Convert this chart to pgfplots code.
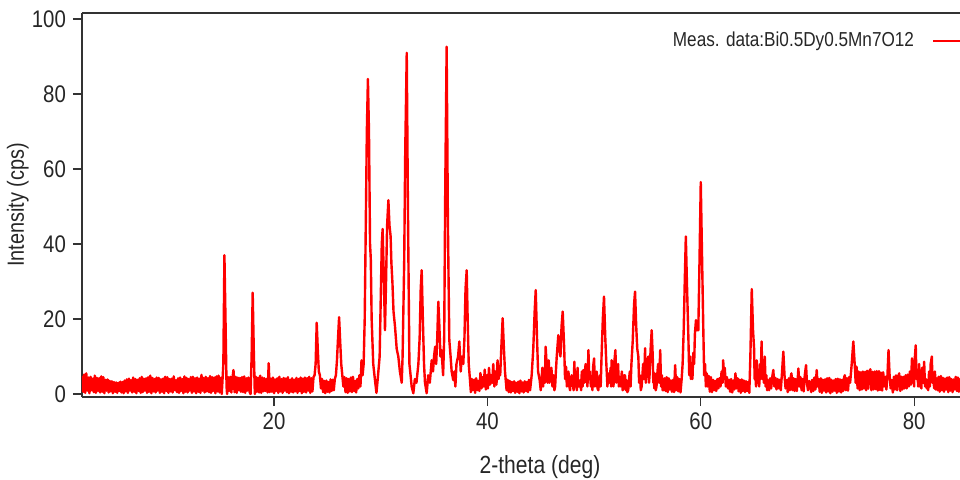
\documentclass[border=0pt]{standalone}
\usepackage{fontspec}
\setmainfont{Liberation Sans}[FakeStretch=0.85]
\usepackage{pgfplots}
\usepackage{pgfplotstable}
\pgfplotsset{compat=1.18}
\pgfplotstableread[row sep=\\]{
x y\\
2.0 4.8\\ 2.1 0.6\\ 2.2 5.2\\ 2.3 0.3\\ 2.4 5.5\\ 2.5 0.9\\ 2.6 4.4\\ 2.7 0.2\\ 2.8 4.6\\ 2.9 1.0\\
3.0 4.1\\ 3.1 0.5\\ 3.2 4.9\\ 3.3 0.3\\ 3.4 4.3\\ 3.5 0.8\\ 3.6 4.2\\ 3.7 0.4\\ 3.8 4.7\\ 3.9 0.6\\
4.0 4.5\\ 4.1 0.2\\ 4.2 3.8\\ 4.3 0.9\\ 4.4 3.9\\ 4.5 0.4\\ 4.6 3.5\\ 4.7 0.7\\ 4.8 3.4\\ 4.9 0.2\\
5.0 3.2\\ 5.1 0.6\\ 5.2 3.1\\ 5.3 0.3\\ 5.4 3.0\\ 5.5 0.8\\ 5.6 3.3\\ 5.7 0.4\\ 5.8 3.2\\ 5.9 0.2\\
6.0 3.6\\ 6.1 0.7\\ 6.2 3.9\\ 6.3 0.3\\ 6.4 4.1\\ 6.5 0.9\\ 6.6 3.7\\ 6.7 0.4\\ 6.8 4.4\\ 6.9 0.6\\
7.0 4.0\\ 7.1 0.2\\ 7.2 3.8\\ 7.3 0.8\\ 7.4 4.2\\ 7.5 0.3\\ 7.6 4.6\\ 7.7 0.5\\ 7.8 4.1\\ 7.9 0.9\\
8.0 4.2\\ 8.1 0.3\\ 8.2 4.5\\ 8.3 0.6\\ 8.4 4.9\\ 8.5 0.2\\ 8.6 4.3\\ 8.7 0.7\\ 8.8 4.0\\ 8.9 0.4\\
9.0 4.4\\ 9.1 0.9\\ 9.2 4.3\\ 9.3 0.3\\ 9.4 3.9\\ 9.5 0.6\\ 9.6 4.1\\ 9.7 0.2\\ 9.8 4.6\\ 9.9 0.8\\
10.0 4.5\\ 10.1 0.3\\ 10.2 4.0\\ 10.3 0.7\\ 10.4 4.1\\ 10.5 0.4\\ 10.6 4.7\\ 10.7 1.0\\ 10.8 3.7\\ 10.9 0.5\\
11.0 4.2\\ 11.1 0.3\\ 11.2 4.4\\ 11.3 0.8\\ 11.4 4.0\\ 11.5 0.2\\ 11.6 4.7\\ 11.7 0.6\\ 11.8 4.3\\ 11.9 0.4\\
12.0 4.0\\ 12.1 0.9\\ 12.2 4.5\\ 12.3 0.3\\ 12.4 4.6\\ 12.5 0.7\\ 12.6 4.2\\ 12.7 0.2\\ 12.8 4.4\\ 12.9 0.6\\
13.0 4.1\\ 13.1 0.3\\ 13.2 5.1\\ 13.3 0.9\\ 13.4 4.3\\ 13.5 0.4\\ 13.6 4.6\\ 13.7 0.7\\ 13.8 4.2\\ 13.9 0.5\\
14.0 4.8\\ 14.1 0.3\\ 14.2 4.5\\ 14.3 0.8\\ 14.4 4.4\\ 14.5 0.2\\ 14.6 4.7\\ 14.7 0.7\\ 14.8 4.9\\ 14.9 0.4\\
15.0 4.3\\ 15.1 0.0\\ 15.25 8\\ 15.35 37\\ 15.45 20\\ 15.55 2\\ 15.6 0.0\\ 15.7 4.5\\ 15.8 0.8\\ 15.9 4.6\\
16.0 0.4\\ 16.1 4.2\\ 16.2 6.4\\ 16.3 0.5\\ 16.4 4.6\\ 16.5 0.3\\ 16.6 4.4\\ 16.7 1.0\\ 16.8 4.3\\ 16.9 0.6\\
17.0 4.5\\ 17.1 0.5\\ 17.2 4.7\\ 17.3 0.3\\ 17.4 4.2\\ 17.5 0.9\\ 17.6 4.4\\ 17.7 0.6\\ 17.8 0.0\\ 17.9 10\\
18.0 27\\ 18.1 12\\ 18.2 0.0\\ 18.3 4.6\\ 18.4 0.6\\ 18.5 4.3\\ 18.6 0.4\\ 18.7 4.9\\ 18.8 0.3\\ 18.9 4.4\\
19.0 0.7\\ 19.1 4.2\\ 19.2 0.8\\ 19.3 4.0\\ 19.4 0.4\\ 19.5 8.2\\ 19.6 0.5\\ 19.7 4.1\\ 19.8 0.6\\ 19.9 4.4\\
20.0 0.2\\ 20.1 3.9\\ 20.2 0.8\\ 20.3 4.2\\ 20.4 0.3\\ 20.5 4.6\\ 20.6 0.7\\ 20.7 4.0\\ 20.8 0.3\\ 20.9 4.3\\
21.0 0.9\\ 21.1 4.1\\ 21.2 0.5\\ 21.3 4.5\\ 21.4 0.2\\ 21.5 3.8\\ 21.6 0.6\\ 21.7 4.2\\ 21.8 0.4\\ 21.9 3.8\\
22.0 0.7\\ 22.1 4.3\\ 22.2 0.3\\ 22.3 4.0\\ 22.4 0.8\\ 22.5 4.4\\ 22.6 0.2\\ 22.7 4.1\\ 22.8 0.6\\ 22.9 4.4\\
23.0 0.4\\ 23.1 4.2\\ 23.2 0.9\\ 23.3 4.6\\ 23.4 0.3\\ 23.5 4.2\\ 23.6 0.7\\ 23.7 4.5\\ 23.8 5.0\\ 23.9 8\\
24.0 19\\ 24.1 12\\ 24.2 6\\ 24.3 5\\ 24.4 1.5\\ 24.5 4.0\\ 24.6 0.5\\ 24.7 3.5\\ 24.8 0.2\\ 24.9 3.6\\
25.0 0.6\\ 25.1 3.2\\ 25.2 0.4\\ 25.3 3.9\\ 25.4 0.8\\ 25.5 3.8\\ 25.6 1.0\\ 25.7 4.0\\ 25.8 5\\ 25.9 9\\
26.0 15\\ 26.1 20.5\\ 26.2 14\\ 26.3 8\\ 26.4 5\\ 26.5 2\\ 26.6 4.5\\ 26.7 0.5\\ 26.8 4.2\\ 26.9 0.3\\
27.0 4.0\\ 27.1 0.7\\ 27.2 4.4\\ 27.3 0.5\\ 27.4 4.6\\ 27.5 0.8\\ 27.6 3.5\\ 27.7 0.4\\ 27.8 4.0\\ 27.9 1.5\\
28.0 5\\ 28.1 2\\ 28.2 9\\ 28.3 5\\ 28.4 8\\ 28.5 20\\ 28.6 45\\ 28.7 70\\ 28.8 84\\ 28.9 70\\
29.0 40\\ 29.07 36\\ 29.15 20\\ 29.3 8\\ 29.45 4\\ 29.6 0.3\\ 29.75 5\\ 29.9 10\\ 30.0 25\\ 30.1 40\\
30.18 44\\ 30.3 30\\ 30.4 17\\ 30.5 30\\ 30.6 45\\ 30.72 51.7\\ 30.82 45\\ 30.93 42\\ 31.0 35\\ 31.1 29.6\\
31.2 22\\ 31.34 18\\ 31.5 12\\ 31.65 10\\ 31.8 6\\ 31.97 3\\ 32.05 10\\ 32.2 35\\ 32.3 65\\ 32.44 91\\
32.55 50\\ 32.69 8\\ 32.8 5\\ 32.9 2\\ 33.06 0.2\\ 33.2 4\\ 33.35 3\\ 33.53 8\\ 33.65 15\\ 33.75 28\\
33.84 33\\ 33.95 20\\ 34.06 8\\ 34.15 3\\ 34.31 0.2\\ 34.45 5\\ 34.6 3\\ 34.78 9\\ 34.9 6\\ 35.0 10\\
35.1 12.6\\ 35.2 8\\ 35.3 15\\ 35.4 24.6\\ 35.5 18\\ 35.6 10\\ 35.7 11.7\\ 35.85 5\\ 35.95 15\\ 36.05 55\\
36.18 92.6\\ 36.3 45\\ 36.43 14.4\\ 36.55 10\\ 36.65 6\\ 36.8 3.7\\ 36.9 6\\ 37.0 2\\ 37.1 8\\ 37.25 10\\
37.37 14\\ 37.5 6\\ 37.6 10\\ 37.74 8\\ 37.85 15\\ 37.95 28\\ 38.06 33\\ 38.15 20\\ 38.25 8\\ 38.37 3.7\\
38.45 0.5\\ 38.55 4\\ 38.65 1\\ 38.75 3.8\\ 38.85 0.3\\ 38.95 4.2\\ 39.05 1.0\\ 39.15 3.5\\ 39.25 0.8\\ 39.35 5.6\\
39.45 1.5\\ 39.55 4.5\\ 39.65 2\\ 39.75 6.5\\ 39.85 1.2\\ 39.95 5\\ 40.05 1.5\\ 40.15 7\\ 40.25 2.5\\ 40.35 5\\
40.45 3\\ 40.55 8\\ 40.65 2\\ 40.75 6\\ 40.85 2.5\\ 40.95 9\\ 41.05 4\\ 41.15 7\\ 41.2 5\\ 41.3 12\\
41.43 20.2\\ 41.55 12\\ 41.65 6\\ 41.8 1\\ 41.9 3.8\\ 42.0 0.5\\ 42.1 3.5\\ 42.2 0.4\\ 42.3 3.2\\ 42.4 0.8\\
42.5 3.4\\ 42.6 0.3\\ 42.7 3.0\\ 42.8 0.6\\ 42.9 3.3\\ 43.0 0.2\\ 43.1 3.6\\ 43.2 0.7\\ 43.3 3.1\\ 43.4 0.4\\
43.5 3.4\\ 43.6 0.8\\ 43.7 3.2\\ 43.8 0.5\\ 43.9 3.8\\ 44.0 1.0\\ 44.15 5\\ 44.3 12\\ 44.43 22\\ 44.53 27.7\\
44.65 15\\ 44.75 6\\ 44.9 3.7\\ 45.0 1\\ 45.08 4\\ 45.15 7\\ 45.22 2\\ 45.3 5\\ 45.38 3\\ 45.46 12.6\\
45.55 8\\ 45.65 3\\ 45.75 9\\ 45.82 3\\ 45.9 4.6\\ 46.0 7\\ 46.1 2\\ 46.2 5\\ 46.28 1\\ 46.35 2\\
46.42 6\\ 46.5 10\\ 46.65 15.7\\ 46.75 12\\ 46.85 10\\ 46.95 18\\ 47.06 22\\ 47.2 12\\ 47.28 4\\ 47.37 7.3\\
47.45 2\\ 47.5 3\\ 47.6 6\\ 47.68 2\\ 47.75 1\\ 47.82 4\\ 47.9 5\\ 48.0 3\\ 48.08 1\\ 48.15 8.6\\
48.22 2\\ 48.3 4\\ 48.38 1\\ 48.45 7\\ 48.52 2\\ 48.6 2\\ 48.7 3.7\\ 48.78 1\\ 48.85 6\\ 48.92 2\\
49.0 6.4\\ 49.1 3\\ 49.2 8\\ 49.3 5\\ 49.38 2\\ 49.47 11.7\\ 49.55 4\\ 49.6 6\\ 49.7 2\\ 49.78 3.7\\
49.85 1\\ 49.9 7\\ 50.0 9.5\\ 50.08 2\\ 50.15 4\\ 50.25 6\\ 50.32 1.5\\ 50.4 1\\ 50.48 4\\ 50.55 5\\
50.62 2\\ 50.7 10\\ 50.82 20\\ 50.93 26\\ 51.05 15\\ 51.15 8\\ 51.25 2\\ 51.34 5.5\\ 51.45 3\\ 51.55 7\\
51.6 2\\ 51.65 9\\ 51.75 5\\ 51.82 2\\ 51.88 8\\ 52.0 11.7\\ 52.08 3\\ 52.15 6\\ 52.25 8\\ 52.32 2\\
52.4 4.6\\ 52.5 2\\ 52.6 6\\ 52.68 1\\ 52.75 1.5\\ 52.82 5\\ 52.9 5\\ 52.98 1\\ 53.05 3.7\\ 53.12 0.5\\
53.2 1\\ 53.28 4\\ 53.35 6\\ 53.42 2\\ 53.5 8\\ 53.62 14\\ 53.75 24\\ 53.84 27.3\\ 53.95 18\\ 54.05 12\\
54.15 10\\ 54.22 3\\ 54.3 5\\ 54.38 1\\ 54.46 2\\ 54.53 5\\ 54.6 8\\ 54.7 4\\ 54.78 12.2\\ 54.85 3\\
54.9 6\\ 55.0 9\\ 55.09 10\\ 55.15 3\\ 55.2 5\\ 55.3 12\\ 55.4 17\\ 55.5 10\\ 55.55 3\\ 55.6 4\\
55.65 1.5\\ 55.7 5.5\\ 55.78 1\\ 55.85 2\\ 55.92 5\\ 56.0 8\\ 56.1 3\\ 56.2 11.7\\ 56.28 2\\ 56.35 5\\
56.42 1\\ 56.5 1\\ 56.6 4.2\\ 56.7 0.8\\ 56.8 4.5\\ 56.9 0.5\\ 57.0 4.2\\ 57.1 1.2\\ 57.2 3.6\\ 57.3 0.6\\
57.4 3.8\\ 57.5 0.5\\ 57.6 7.7\\ 57.7 1\\ 57.8 4.5\\ 57.9 0.7\\ 58.0 4.0\\ 58.1 0.4\\ 58.2 3.7\\ 58.3 8\\
58.4 17\\ 58.5 30\\ 58.6 42\\ 58.7 30\\ 58.84 15\\ 58.92 5\\ 59.0 10\\ 59.08 4\\ 59.15 8\\ 59.22 4\\
59.3 11\\ 59.38 8\\ 59.45 16\\ 59.55 19.7\\ 59.65 17\\ 59.77 17\\ 59.88 35\\ 60.0 56.5\\ 60.1 40\\ 60.24 17\\
60.32 5\\ 60.4 8\\ 60.48 2\\ 60.56 5.5\\ 60.65 2\\ 60.75 4.8\\ 60.85 0.6\\ 60.95 4.5\\ 61.05 0.5\\ 61.15 3.8\\
61.25 1.0\\ 61.35 3.5\\ 61.45 0.8\\ 61.55 4.0\\ 61.65 1.5\\ 61.75 4.2\\ 61.85 2\\ 61.95 6\\ 62.05 3\\ 62.1 9\\
62.2 4\\ 62.25 7\\ 62.35 2\\ 62.45 4.5\\ 62.55 1.5\\ 62.65 3.8\\ 62.75 0.6\\ 62.85 4\\ 62.95 0.4\\ 63.05 3.6\\
63.15 1.2\\ 63.25 5.5\\ 63.35 1.5\\ 63.45 4.2\\ 63.55 0.7\\ 63.65 3.8\\ 63.75 0.3\\ 63.85 3.9\\ 63.95 0.8\\ 64.05 3.6\\
64.15 0.5\\ 64.25 3.4\\ 64.35 0.8\\ 64.45 3.2\\ 64.55 0.3\\ 64.65 10\\ 64.78 28\\ 64.9 17\\ 65.0 12\\ 65.05 4\\
65.1 6\\ 65.18 2\\ 65.25 9\\ 65.32 3\\ 65.4 5\\ 65.48 2\\ 65.55 8\\ 65.62 4\\ 65.7 14\\ 65.78 4\\
65.85 8\\ 65.92 3\\ 66.0 10\\ 66.08 2\\ 66.15 5\\ 66.22 1\\ 66.3 3.7\\ 66.4 1\\ 66.5 4.2\\ 66.6 1.5\\
66.7 4.5\\ 66.8 6.4\\ 66.9 2\\ 67.0 4.3\\ 67.1 1.2\\ 67.2 4\\ 67.3 1.5\\ 67.4 3.8\\ 67.5 1.0\\ 67.6 5\\
67.74 11.3\\ 67.85 5\\ 67.95 1.5\\ 68.05 3.7\\ 68.15 0.5\\ 68.25 4.2\\ 68.35 1.0\\ 68.45 4.8\\ 68.5 5.5\\ 68.6 1\\
68.7 4.2\\ 68.8 0.8\\ 68.9 4.0\\ 69.0 0.8\\ 69.1 4.5\\ 69.15 6.8\\ 69.25 2\\ 69.35 4.5\\ 69.45 1.0\\ 69.55 4.0\\
69.65 0.7\\ 69.75 5\\ 69.87 7.7\\ 69.95 3\\ 70.05 1\\ 70.15 3.5\\ 70.25 3\\ 70.35 0.5\\ 70.45 3.8\\ 70.55 0.8\\
70.65 4.4\\ 70.75 1.2\\ 70.87 6.4\\ 70.95 2\\ 71.05 4.0\\ 71.15 0.6\\ 71.25 4.2\\ 71.35 0.3\\ 71.45 3.8\\ 71.55 0.9\\
71.65 3.9\\ 71.75 0.4\\ 71.85 4.2\\ 71.95 0.7\\ 72.05 4.3\\ 72.15 0.2\\ 72.25 3.8\\ 72.35 0.6\\ 72.45 3.6\\ 72.55 0.9\\
72.65 4.0\\ 72.75 0.3\\ 72.85 4.1\\ 72.95 0.7\\ 73.05 3.9\\ 73.15 0.4\\ 73.25 3.8\\ 73.35 0.8\\ 73.45 4.6\\ 73.5 5\\
73.6 1.0\\ 73.7 4.2\\ 73.8 0.9\\ 73.9 4.5\\ 74.0 3\\ 74.15 8\\ 74.3 14\\ 74.45 7\\ 74.52 3\\ 74.6 7.3\\
74.7 1.5\\ 74.8 6\\ 74.9 1.0\\ 75.0 5.8\\ 75.1 1.2\\ 75.2 6\\ 75.3 1.5\\ 75.4 5.9\\ 75.5 1.0\\ 75.6 6.2\\
75.7 1.4\\ 75.8 6.0\\ 75.9 6.6\\ 76.0 1.0\\ 76.1 5.9\\ 76.2 1.2\\ 76.3 6\\ 76.4 1.3\\ 76.5 6.1\\ 76.6 0.9\\
76.7 6.1\\ 76.8 1.1\\ 76.9 5.7\\ 77.0 0.9\\ 77.1 5.8\\ 77.2 2\\ 77.3 4.6\\ 77.4 1.2\\ 77.5 5\\ 77.6 11.7\\
77.7 5\\ 77.8 1.5\\ 77.9 3.7\\ 78.0 0.4\\ 78.1 4.6\\ 78.2 1.2\\ 78.3 5\\ 78.4 1.0\\ 78.5 4.5\\ 78.6 5.5\\
78.7 0.8\\ 78.8 4.6\\ 78.9 1.2\\ 79.0 4.6\\ 79.1 1.5\\ 79.2 5.0\\ 79.3 1.5\\ 79.4 5.2\\ 79.5 2\\ 79.6 6\\
79.7 2.5\\ 79.8 9.5\\ 79.88 3\\ 79.95 5\\ 80.0 2\\ 80.05 9\\ 80.15 13\\ 80.22 4\\ 80.3 6\\ 80.38 2\\
80.47 8\\ 80.53 2\\ 80.6 3\\ 80.68 1.5\\ 80.75 7\\ 80.85 3\\ 80.94 8.6\\ 81.02 2\\ 81.1 4\\ 81.18 1.5\\
81.25 3.7\\ 81.32 1\\ 81.4 6\\ 81.48 2\\ 81.55 8\\ 81.66 10\\ 81.72 3\\ 81.8 4\\ 81.88 1.5\\ 81.95 6\\
82.02 1.2\\ 82.1 4.2\\ 82.2 1.0\\ 82.3 4.6\\ 82.4 0.6\\ 82.5 4.8\\ 82.6 1.0\\ 82.7 4.3\\ 82.8 0.6\\ 82.9 4.1\\
83.0 1.2\\ 83.1 4.4\\ 83.2 0.5\\ 83.3 4.5\\ 83.4 0.9\\ 83.5 4.0\\ 83.6 0.5\\ 83.7 3.9\\ 83.8 1.2\\ 83.9 4.6\\
84.0 0.8\\ 84.1 4.4\\ 84.2 0.6\\ 84.3 4.0\\ 84.4 1.0\\ 84.5 4.0\\
}\xrd
\begin{document}
\begin{tikzpicture}
\begin{axis}[
  name=ax, at={(0,0)}, anchor=south west,
  scale only axis, width=439pt, height=192pt,
  xmin=2, xmax=84.3, ymin=-0.8, ymax=101.6,
  axis x line*=bottom, axis y line*=left,
  axis line style={black!80, line width=0.7pt},
  xtick={20,40,60,80}, ytick={0,20,40,60,80,100},
  tick align=outside, major tick length=4.5pt,
  tick style={black!80, line width=0.6pt},
  /pgf/number format/assume math mode=true,
  tick label style={font=\fontsize{12}{14}\selectfont, black!85},
  xlabel={2-theta (deg)}, ylabel={Intensity (cps)},
  xlabel style={at={(axis description cs:0.5216,-0.182)}, anchor=center, font=\fontsize{12.4}{14}\selectfont, black!85},
  ylabel style={at={(axis description cs:-0.073,0.5)}, anchor=center, font=\fontsize{11.7}{14}\selectfont, black!85},
  legend plot pos=right,
  legend style={at={(axis description cs:0.668,0.927)}, anchor=west, draw=none, fill=none,
    font=\fontsize{10.1}{12}\selectfont, text=black!85, inner sep=0pt},
  legend image code/.code={\path (0pt,0pt); \draw[#1, line width=1.2pt] (7pt,0pt) -- (27pt,0pt);},
]
\addplot[red, line width=1.2pt, line join=round] table[x=x, y=y] {\xrd};
\addlegendentry{Meas. data:Bi0.5Dy0.5Mn7O12}
\end{axis}
\draw[black!80, line width=0.7pt] (ax.north west) -- (ax.north east);
\pgfresetboundingbox
\path (-41pt,-41pt) rectangle (439pt,198.5pt);
\end{tikzpicture}
\end{document}
